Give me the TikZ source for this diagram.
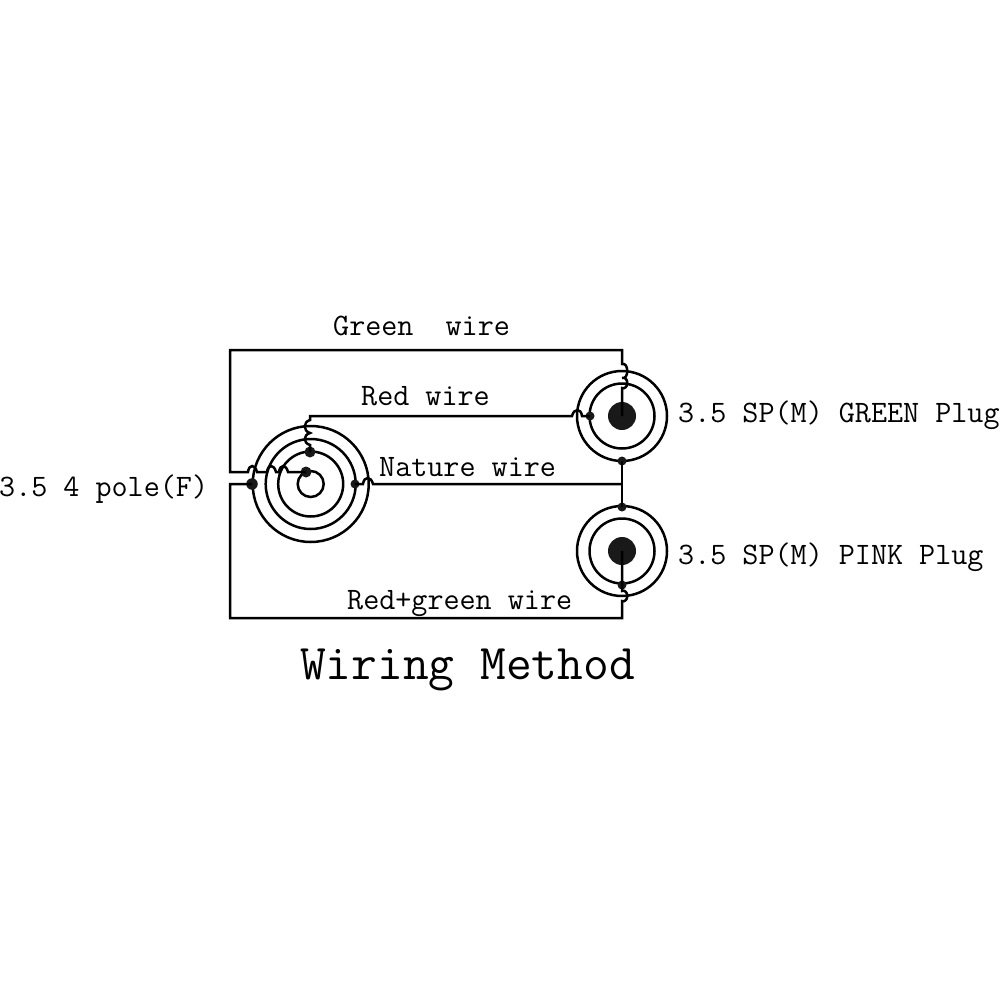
\documentclass[tikz,border=0pt]{standalone}
\usepackage{fontspec}
\setmonofont{Latin Modern Mono}
\newcommand{\hr}[1]{.. controls +(1,-8) and +(-2,-8) .. ++(#1,0)}
\newcommand{\hl}[1]{.. controls +(-1,-8) and +(2,-8) .. ++(-#1,0)}
\newcommand{\vL}[1]{.. controls +(-7,2) and +(-7,-2) .. ++(0,#1)}
\newcommand{\vR}[1]{.. controls +(7,2) and +(7,-2) .. ++(0,#1)}
\tikzset{
  wire/.style={line width=2.5pt,line join=miter,black},
  ring/.style={circle,draw,line width=2.5pt,inner sep=0pt,minimum size=#1},
  dotn/.style={circle,fill=black!90,draw=none,inner sep=0pt,minimum size=#1},
  lbl/.style={font=\ttfamily\fontsize{31.2}{31.2}\selectfont,anchor=base west,inner sep=0pt,text=black},
  ttl/.style={font=\ttfamily\fontsize{50}{50}\selectfont,anchor=base west,inner sep=0pt,text=black}
}
\begin{document}
\begin{tikzpicture}[x=1pt,y=-1pt]
\useasboundingbox (0,0) rectangle (1000,1000);
% left jack
\node[ring=116pt] (la) at (310.7,484) {};
\node[ring=90pt] (lb) at (310.7,484) {};
\node[ring=65pt] (lc) at (310.7,484) {};
\node[ring=26pt] (ld) at (310.7,484) {};
% green plug
\node[ring=90pt] (ga) at (622,416) {};
\node[ring=65pt] (gb) at (622,416) {};
\node[dotn=28pt] (gc) at (622,416) {};
% pink plug
\node[ring=90pt] (pa) at (622,551) {};
\node[ring=65pt] (pb) at (622,551) {};
\node[dotn=28pt] (pc) at (622,551) {};
% junction dots
\node[dotn=11.5pt] (d1) at (252,484) {};
\node[dotn=11pt] (d2) at (306,472) {};
\node[dotn=11pt] (d3) at (310,452) {};
\node[dotn=9pt] (d4) at (355,484) {};
\node[dotn=9pt] (d5) at (590,416) {};
\node[dotn=9pt] (d6) at (622,461) {};
\node[dotn=9pt] (d7) at (622,507) {};
\node[dotn=9pt] (d8) at (622,585) {};
\coordinate (j) at (622,484);
\coordinate (c1) at (622,350);
\coordinate (c2) at (230,350);
\coordinate (c3) at (230,472);
\coordinate (c4) at (230,484);
\coordinate (c5) at (230,618);
\coordinate (c6) at (622,618);
\coordinate (c7) at (310,416);
% green wire
\draw[wire] (gc.center) -- (622,388) \vR{-10} -- (622,378) \vR{-14} -- (c1) -- (c2) -- (c3)
  -- (248,472) \hr{9} -- (267,472) \hr{9} -- (279,472) \hr{9} -- (d2.center);
% red wire
\draw[wire] (d5.center) -- (582,416) \hl{10} -- (c7) -- (310,420) \vL{13} -- (310,433) \vL{12} -- (d3.center);
% nature wire
\draw[wire] (d4.center) -- (363,484) \hr{10} -- (j);
\draw[wire] (d6.center) -- (j) -- (d7.center);
% red+green wire
\draw[wire] (d1.center) -- (c4) -- (c5) -- (c6) -- (622,601) \vR{-10} -- (d8.center) -- (pc.center);
% labels
\node[lbl] (t1) at (333,335) {Green\ \ wire};
\node[lbl] (t2) at (361,405) {Red wire};
\node[lbl] (t3) at (379,476) {Nature wire};
\node[lbl] (t4) at (347,609) {Red+green wire};
\node[lbl] (t5) at (-1,496) {3.5 4 pole(F)};
\node[lbl] (t6) at (678,422) {3.5 SP(M) GREEN Plug};
\node[lbl] (t7) at (678,564) {3.5 SP(M) PINK Plug};
\node[ttl] (t8) at (300,679) {Wiring Method};
\end{tikzpicture}
\end{document}
